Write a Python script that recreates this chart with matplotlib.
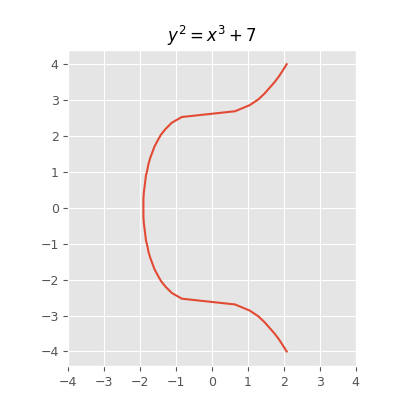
import matplotlib
matplotlib.use('Agg')
import matplotlib.pyplot as plt

plt.style.use('ggplot')

# points, lower branch to upper branch
y_pts = [-4.00, -3.84, -3.67, -3.51, -3.35, -3.18, -3.02, -2.86, -2.69, -2.53,
         -2.37, -2.20, -2.04, -1.88, -1.71, -1.55, -1.39, -1.22, -1.06, -0.90,
         -0.73, -0.57, -0.41, -0.24, -0.08,
         0.08, 0.24, 0.41, 0.57, 0.73, 0.90, 1.06, 1.22, 1.39, 1.55,
         1.71, 1.88, 2.04, 2.20, 2.37, 2.53, 2.69, 2.86, 3.02, 3.18,
         3.35, 3.51, 3.67, 3.84, 4.00]
x_pts = [2.08, 1.98, 1.87, 1.75, 1.61, 1.46, 1.29, 1.05, 0.64, -0.84,
         -1.12, -1.29, -1.42, -1.51, -1.60, -1.66, -1.72, -1.77, -1.80, -1.84,
         -1.86, -1.88, -1.90, -1.91, -1.91,
         -1.91, -1.91, -1.90, -1.88, -1.86, -1.84, -1.80, -1.77, -1.72, -1.66,
         -1.60, -1.51, -1.42, -1.29, -1.12, -0.84, 0.64, 1.05, 1.29, 1.46,
         1.61, 1.75, 1.87, 1.98, 2.08]
x_ticks = [-4, -3, -2, -1, 0, 1, 2, 3, 4]

fig = plt.figure(figsize=(4, 4.12), dpi=100)
ax = fig.add_axes([0.17, 0.112, 0.72, 0.767])
ax.plot(x_pts, y_pts)
ax.set_xlim(-4, 4)
ax.set_ylim(-4.4, 4.4)
ax.set_xticks(x_ticks)
ax.set_aspect('equal')
ax.tick_params(labelsize=9)
ax.set_title(r'$y^2 = x^3 + 7$', fontsize=12)

plt.savefig('out.png', dpi=100)
